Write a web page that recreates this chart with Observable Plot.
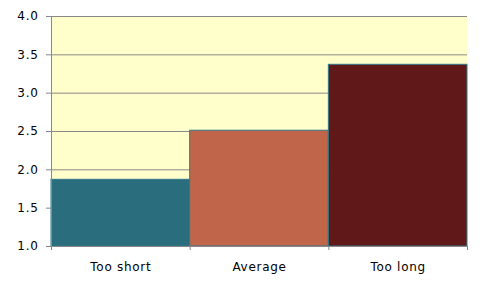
<!DOCTYPE html>
<html>
<head>
<meta charset="utf-8">
<script src="https://cdn.jsdelivr.net/npm/d3@7"></script>
<script src="https://cdn.jsdelivr.net/npm/@observablehq/plot@0.6"></script>
<style>
  html, body { margin: 0; padding: 0; background: #fff; }
  #chart { width: 484px; height: 292px; }
  #chart svg text { letter-spacing: 0.7px; }
</style>
</head>
<body>
<div id="chart"></div>
<script>
const categories = ["Too short", "Average", "Too long"];
const values = [1.87, 2.51, 3.37];
const colors = ["#2A6D7C", "#C0654A", "#601819"];
const yTicks = [1.0, 1.5, 2.0, 2.5, 3.0, 3.5, 4.0];

const data = categories.map((c, i) => ({cat: c, i, value: values[i], color: colors[i]}));

const plot = Plot.plot({
  width: 484,
  height: 292,
  marginLeft: 51,
  marginRight: 17,
  marginTop: 16,
  marginBottom: 46,
  style: {fontFamily: "DejaVu Sans, Verdana, sans-serif", fontSize: "12px", color: "#000", background: "#fff"},
  x: {type: "linear", domain: [0, categories.length]},
  y: {domain: [1, 4]},
  marks: [
    Plot.frame({fill: "#FFFFCC", stroke: null}),
    Plot.gridY(yTicks, {stroke: "#888", strokeOpacity: 1}),
    Plot.rectY(data, {x1: "i", x2: d => d.i + 1, y1: 1, y2: "value", fill: "color", stroke: "#31798B", strokeWidth: 1, inset: 0}),
    Plot.ruleX([0], {stroke: "#888"}),
    Plot.ruleY([1], {stroke: "#888"}),
    Plot.axisY(yTicks, {tickSize: 5, tickPadding: 8, tickFormat: d3.format(".1f"), stroke: "#888", fill: "#000", fontSize: 12, label: null}),
    Plot.axisX(d3.range(categories.length + 1), {tickSize: 4, tickFormat: () => "", stroke: "#888", label: null}),
    Plot.axisX(data.map(d => d.i + 0.5), {tickSize: 0, tickPadding: 16, tickFormat: (d, k) => categories[k], fill: "#000", fontSize: 12, label: null})
  ]
});
document.getElementById("chart").appendChild(plot);
</script>
</body>
</html>
